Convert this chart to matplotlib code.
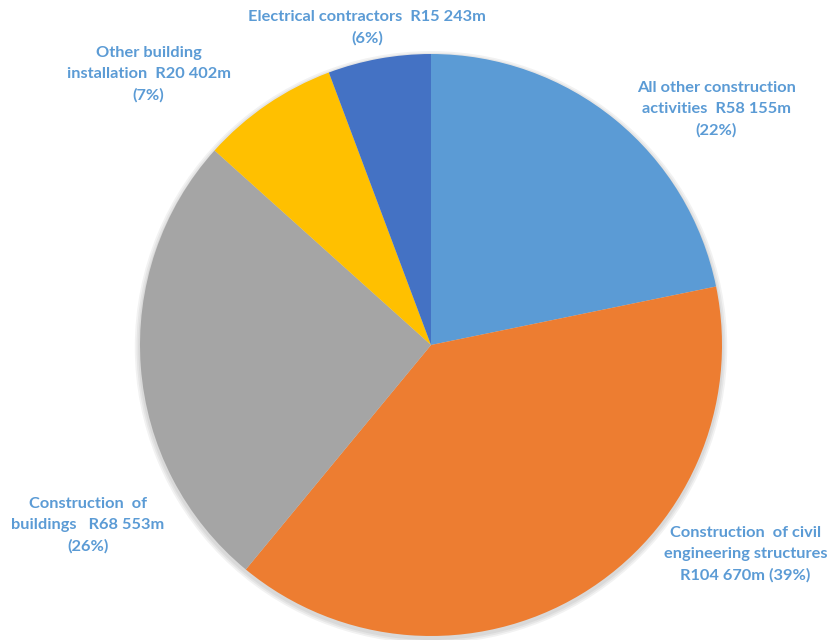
import matplotlib.pyplot as plt

# Construction industry turnover by activity (R million)
segments = ["All other construction\nactivities  R58 155m\n(22%)",
            "Construction  of civil\nengineering structures\nR104 670m (39%)",
            "Construction  of\nbuildings   R68 553m\n(26%)",
            "Other building\ninstallation  R20 402m\n(7%)",
            "Electrical contractors  R15 243m\n(6%)"]
turnover = [58155, 104670, 68553, 20402, 15243]
colours = ["#5B9BD5", "#ED7D31", "#A5A5A5", "#FFC000", "#4472C4"]

# label anchor points, in pie radius units
label_xy = [(0.98, 0.81), (1.08, -0.72), (-1.18, -0.62), (-0.97, 0.93), (-0.22, 1.09)]

W, H = 831, 640
fig = plt.figure(figsize=(W / 100, H / 100), dpi=100)
cx, cy, r = 431, 640 - 345, 291
ax = fig.add_axes([(cx - r) / W, (cy - r) / H, 2 * r / W, 2 * r / H])

# soft drop shadow under the pie
for k, a in enumerate([0.05, 0.05, 0.05]):
    ax.pie([1], radius=1 + 0.006 * (k + 1), colors=["#000000"], center=(0.0, -0.008),
           wedgeprops=dict(alpha=a, linewidth=0))

ax.pie(turnover, colors=colours, startangle=90, counterclock=False,
       wedgeprops=dict(linewidth=0))

for txt, (x, y) in zip(segments, label_xy):
    ax.text(x, y, txt, ha="center", va="center", fontsize=11.8, fontweight="bold",
            family="Lato", color="#5B9BD5", linespacing=1.65)

ax.set_xlim(-1, 1)
ax.set_ylim(-1, 1)
ax.set_aspect("equal")
ax.axis("off")

fig.savefig("out.png", dpi=100)
